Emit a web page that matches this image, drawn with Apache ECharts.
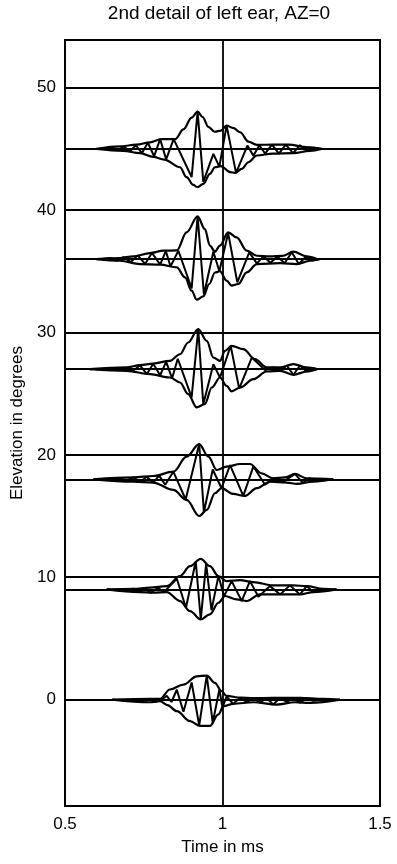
<!DOCTYPE html>
<html>
<head>
<meta charset="utf-8">
<script src="https://cdn.jsdelivr.net/npm/echarts@6/dist/echarts.min.js"></script>
<style>
  html, body { margin: 0; padding: 0; background: #fff; }
  #chart { width: 397px; height: 864px; }
</style>
</head>
<body>
<div id="chart"></div>
<script>
// elevations (degrees) where each response is drawn
const elevations = [0, 9, 18, 27, 36, 45];
const yTicks = [0, 10, 20, 30, 40, 50];
const xTicks = [0.5, 1, 1.5];

// [time ms, offset in degrees] -- upper envelope, lower envelope, waveform
const up0 = [[0.65,0],[0.77,0.05],[0.802,0.05],[0.833,0.82],[0.876,1.22],[0.918,1.9],[0.95,1.96],[0.976,1.36],[0.997,0.68],[1.013,0.3],[1.056,0.15],[1.098,0.11],[1.161,0.14],[1.246,0.14],[1.32,0.05],[1.373,0]];
const lo0 = [[0.65,0],[0.77,-0.22],[0.802,-0.14],[0.825,-0.45],[0.855,-0.95],[0.897,-1.77],[0.929,-2.15],[0.96,-2.15],[0.987,-1.22],[1.003,-0.54],[1.034,-0.35],[1.098,-0.22],[1.172,-0.41],[1.23,-0.22],[1.278,-0.27],[1.373,0]];
const zig0 = [[0.72,0],[0.745,-0.1],[0.765,0.05],[0.785,-0.2],[0.807,0],[0.823,0.3],[0.838,-0.2],[0.855,0.8],[0.876,-1.0],[0.902,1.4],[0.926,-2.1],[0.95,1.96],[0.969,-1.9],[0.99,0.82],[1.0,-0.65],[1.013,0.25],[1.034,-0.35],[1.056,0.15],[1.077,-0.22],[1.098,0.11],[1.119,-0.25],[1.14,0.14],[1.161,-0.41],[1.183,0.14],[1.204,-0.2],[1.225,0.14],[1.246,-0.25],[1.267,0.1],[1.288,-0.1],[1.32,0]];

const up9 = [[0.632,0],[0.717,0.05],[0.77,0.14],[0.823,0.27],[0.865,1.09],[0.897,1.9],[0.931,2.5],[0.96,1.9],[0.987,1.09],[1.013,0.68],[1.056,0.76],[1.098,0.6],[1.161,0.33],[1.225,0.33],[1.267,0.27],[1.32,0.05],[1.362,0]];
const lo9 = [[0.632,0],[0.738,-0.22],[0.78,-0.27],[0.823,-0.22],[0.865,-0.95],[0.897,-1.77],[0.931,-2.45],[0.96,-2.04],[0.987,-1.09],[1.008,-0.54],[1.045,-0.82],[1.077,-0.95],[1.119,-0.41],[1.183,-0.41],[1.246,-0.41],[1.288,-0.22],[1.362,0]];
const zig9 = [[0.7,0],[0.717,0.05],[0.734,-0.2],[0.753,0.1],[0.772,-0.27],[0.795,0.14],[0.814,-0.22],[0.855,0.87],[0.884,-1.5],[0.915,2.3],[0.931,-2.45],[0.948,2.1],[0.965,-1.7],[0.987,1.09],[1.005,-0.55],[1.029,0.68],[1.061,-0.95],[1.087,0.68],[1.114,-0.6],[1.151,0.27],[1.183,-0.41],[1.214,0.33],[1.246,-0.41],[1.267,0.27],[1.288,-0.22],[1.32,0]];

const up18 = [[0.59,0],[0.717,0.16],[0.78,0.27],[0.844,0.62],[0.886,1.85],[0.926,2.88],[0.955,1.85],[0.982,0.76],[1.013,1.03],[1.056,1.25],[1.087,1.25],[1.124,0.49],[1.161,0.08],[1.198,0.16],[1.23,0.44],[1.267,0.08],[1.352,0]];
const lo18 = [[0.59,0],[0.717,-0.19],[0.78,-0.27],[0.844,-0.87],[0.886,-1.69],[0.926,-3.0],[0.95,-2.5],[0.976,-1.14],[0.997,-0.73],[1.034,-1.2],[1.071,-1.36],[1.109,-0.73],[1.151,-0.19],[1.204,-0.27],[1.236,-0.38],[1.288,-0.19],[1.352,0]];
const zig18 = [[0.62,0],[0.675,0.05],[0.696,-0.1],[0.717,0.16],[0.74,-0.2],[0.759,0.2],[0.78,-0.27],[0.799,0.3],[0.818,-0.45],[0.844,0.62],[0.883,-1.65],[0.926,2.88],[0.941,-2.7],[0.969,0.8],[0.997,-0.73],[1.024,1.15],[1.066,-1.36],[1.098,1.05],[1.135,-0.45],[1.165,0.08],[1.19,-0.25],[1.23,0.44],[1.255,-0.3],[1.275,0.08],[1.3,-0.15],[1.35,0]];

const up27 = [[0.579,0],[0.696,0.14],[0.738,0.33],[0.78,0.46],[0.833,0.68],[0.865,1.22],[0.891,2.18],[0.923,3.27],[0.95,2.31],[0.971,0.95],[0.992,0.68],[1.008,1.5],[1.029,1.9],[1.066,1.63],[1.103,0.82],[1.14,0.14],[1.183,0.14],[1.225,0.41],[1.267,0.14],[1.3,0]];
const lo27 = [[0.579,0],[0.696,-0.14],[0.77,-0.41],[0.833,-0.68],[0.865,-1.09],[0.891,-2.04],[0.918,-3.13],[0.944,-2.86],[0.966,-1.5],[0.992,-0.68],[1.013,-1.36],[1.029,-1.82],[1.056,-1.5],[1.098,-0.82],[1.14,-0.19],[1.183,-0.14],[1.225,-0.46],[1.267,-0.19],[1.3,0]];
const zig27 = [[0.6,0],[0.696,0.1],[0.715,-0.15],[0.738,0.3],[0.76,-0.4],[0.78,0.45],[0.802,-0.5],[0.821,0.6],[0.84,-0.75],[0.858,0.85],[0.902,-2.31],[0.923,3.27],[0.939,-2.86],[0.971,0.41],[0.992,-0.68],[1.026,1.9],[1.053,-1.6],[1.093,0.95],[1.135,-0.08],[1.16,0.14],[1.183,-0.14],[1.204,0.3],[1.225,-0.46],[1.246,0.3],[1.267,-0.19],[1.288,0.08],[1.3,0]];

const up36 = [[0.6,0],[0.675,0.08],[0.717,0.22],[0.77,0.49],[0.812,0.68],[0.855,0.7],[0.886,2.18],[0.921,3.48],[0.944,2.45],[0.96,1.1],[0.976,0.6],[0.992,1.1],[1.018,2.18],[1.045,1.77],[1.077,0.68],[1.109,0.27],[1.15,0.22],[1.19,0.25],[1.225,0.6],[1.267,0.22],[1.3,0]];
const lo36 = [[0.6,0],[0.675,-0.14],[0.738,-0.41],[0.802,-0.45],[0.855,-0.68],[0.881,-1.5],[0.902,-2.59],[0.918,-3.32],[0.939,-3.05],[0.958,-2.04],[0.976,-1.1],[0.992,-1.0],[1.013,-1.77],[1.029,-2.18],[1.05,-2.04],[1.077,-1.09],[1.109,-0.41],[1.183,-0.33],[1.236,-0.41],[1.278,-0.14],[1.31,0]];
const zig36 = [[0.62,0],[0.643,0.08],[0.665,-0.12],[0.687,0.15],[0.709,-0.25],[0.731,0.3],[0.754,-0.4],[0.776,0.5],[0.802,-0.45],[0.82,0.65],[0.835,-0.6],[0.86,0.68],[0.902,-2.4],[0.921,3.48],[0.941,-2.9],[0.971,0.6],[0.99,-1.0],[1.018,2.12],[1.047,-1.9],[1.085,0.54],[1.109,-0.35],[1.13,0.22],[1.152,-0.3],[1.175,0.2],[1.197,-0.35],[1.22,0.55],[1.242,-0.4],[1.265,0.2],[1.287,-0.1],[1.31,0]];

const up45 = [[0.6,0],[0.675,0.2],[0.727,0.35],[0.77,0.54],[0.805,0.8],[0.85,0.8],[0.876,1.6],[0.902,2.55],[0.921,3.05],[0.937,2.6],[0.955,1.8],[0.975,1.4],[0.995,1.5],[1.013,1.9],[1.035,1.7],[1.056,1.36],[1.082,0.6],[1.109,0.33],[1.16,0.35],[1.21,0.35],[1.267,0.14],[1.315,0]];
const lo45 = [[0.6,0],[0.685,-0.16],[0.738,-0.35],[0.78,-0.65],[0.815,-0.87],[0.865,-1.5],[0.886,-2.31],[0.907,-2.94],[0.92,-3.13],[0.939,-2.86],[0.96,-2.04],[0.976,-1.5],[0.995,-1.4],[1.024,-1.9],[1.04,-1.96],[1.061,-1.63],[1.082,-1.09],[1.109,-0.54],[1.16,-0.38],[1.225,-0.35],[1.278,-0.16],[1.315,0]];
const zig45 = [[0.633,0],[0.649,0.12],[0.668,-0.12],[0.687,0.2],[0.706,-0.2],[0.725,0.3],[0.744,-0.35],[0.763,0.5],[0.783,-0.6],[0.802,0.8],[0.821,-0.85],[0.845,0.8],[0.902,-2.3],[0.921,3.05],[0.939,-2.7],[0.971,-0.4],[0.99,-1.45],[1.013,1.9],[1.043,-1.96],[1.079,0.27],[1.098,-0.55],[1.117,0.3],[1.135,-0.38],[1.157,0.35],[1.179,-0.38],[1.201,0.35],[1.224,-0.35],[1.246,0.3],[1.268,-0.18],[1.29,0.1],[1.315,0]];

const traces = [
  { elev: 0, up: up0, lo: lo0, zig: zig0 },
  { elev: 9, up: up9, lo: lo9, zig: zig9 },
  { elev: 18, up: up18, lo: lo18, zig: zig18 },
  { elev: 27, up: up27, lo: lo27, zig: zig27 },
  { elev: 36, up: up36, lo: lo36, zig: zig36 },
  { elev: 45, up: up45, lo: lo45, zig: zig45 },
];

const FONT = "'Liberation Sans', Arial, sans-serif";
const shift = (arr, base) => arr.map(p => [p[0], base + p[1]]);

const chart = echarts.init(document.getElementById("chart"));

const series = [];
// horizontal reference lines: the grid at the ticks and each trace's zero line
series.push({
  type: "line",
  data: [],
  silent: true,
  markLine: {
    symbol: "none",
    silent: true,
    label: { show: false },
    lineStyle: { color: "#000", width: 1.8, type: "solid" },
    data: yTicks.concat(elevations).map(v => ({ yAxis: v })),
  },
});
traces.forEach(tr => {
  const common = {
    type: "line",
    showSymbol: false,
    silent: true,
    animation: false,
    clip: true,
  };
  series.push(Object.assign({}, common, {
    data: shift(tr.up, tr.elev),
    smooth: 0.35,
    smoothMonotone: "x",
    lineStyle: { color: "#000", width: 2.2 },
  }));
  series.push(Object.assign({}, common, {
    data: shift(tr.lo, tr.elev),
    smooth: 0.35,
    smoothMonotone: "x",
    lineStyle: { color: "#000", width: 2.2 },
  }));
  series.push(Object.assign({}, common, {
    data: shift(tr.zig, tr.elev),
    smooth: false,
    lineStyle: { color: "#000", width: 2 },
  }));
});

const option = {
  animation: false,
  backgroundColor: "#fff",
  textStyle: { fontFamily: FONT, color: "#000" },
  graphic: [
    {
      type: "text",
      x: 219,
      y: 4,
      style: {
        text: "2nd detail of left ear, AZ=0",
        fill: "#000",
        font: "19px " + FONT,
        textAlign: "center",
      },
    },
  ],
  grid: {
    left: 65,
    right: 17,
    top: 40,
    bottom: 58,
    show: true,
    borderColor: "#000",
    borderWidth: 2,
  },
  xAxis: {
    type: "value",
    min: xTicks[0],
    max: xTicks[xTicks.length - 1],
    interval: 0.5,
    axisLine: { show: false },
    axisTick: { show: false },
    axisLabel: { color: "#000", fontSize: 17, fontFamily: FONT, margin: 10 },
    splitLine: { show: true, lineStyle: { color: "#000", width: 1.8 } },
    name: "Time in ms",
    nameLocation: "middle",
    nameGap: 33,
    nameTextStyle: { color: "#000", fontSize: 17, fontFamily: FONT },
  },
  yAxis: {
    type: "value",
    min: -8.7,
    max: 53.9,
    axisLine: { show: false },
    axisTick: { show: false },
    splitLine: { show: false },
    axisLabel: {
      customValues: yTicks,
      color: "#000",
      fontSize: 17,
      fontFamily: FONT,
      margin: 9,
    },
    name: "Elevation in degrees",
    nameLocation: "middle",
    nameGap: 39,
    nameTextStyle: { color: "#000", fontSize: 17, fontFamily: FONT },
  },
  series: series,
};

chart.setOption(option);
</script>
</body>
</html>
